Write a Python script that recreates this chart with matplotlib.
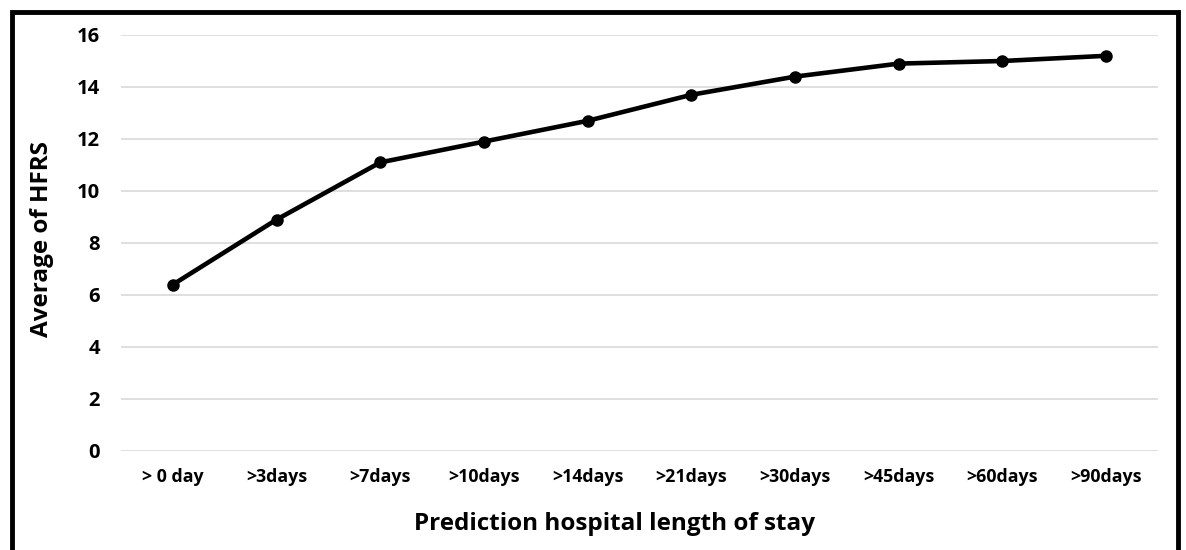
import matplotlib
matplotlib.use("Agg")
import matplotlib.pyplot as plt
from matplotlib.patches import Rectangle

categories = ["> 0 day", ">3days", ">7days", ">10days", ">14days", ">21days",
              ">30days", ">45days", ">60days", ">90days"]
hfrs = [6.4, 8.9, 11.1, 11.9, 12.7, 13.7, 14.4, 14.9, 15.0, 15.2]
yticks = [0, 2, 4, 6, 8, 10, 12, 14, 16]

plt.rcParams['font.family'] = ['Open Sans', 'DejaVu Sans']

W, H = 1186, 550
fig = plt.figure(figsize=(W / 100, H / 100), dpi=100)
ax = fig.add_axes([121 / W, 1 - 451 / H, (1158 - 121) / W, (451 - 35) / H])

x = list(range(len(categories)))
ax.plot(x, hfrs, color='black', lw=3.3, marker='o', ms=8, zorder=3)
ax.set_xlim(-0.5, len(categories) - 0.5)
ax.set_ylim(0, 16)
ax.set_yticks(yticks)
ax.set_yticklabels([str(v) for v in yticks], fontsize=14.5, fontweight='bold')
ax.set_xticks(x)
ax.set_xticklabels(categories, fontsize=12.8, fontweight='bold')
ax.tick_params(length=0)
ax.tick_params(axis='x', pad=12)
ax.tick_params(axis='y', pad=15)
ax.grid(axis='y', color='#d9d9d9', lw=1.2)
ax.set_axisbelow(True)
for s in ax.spines.values():
    s.set_visible(False)

fig.text(614 / W, 1 - 524 / H, "Prediction hospital length of stay",
         ha='center', va='center', fontsize=17.5, fontweight='bold')
fig.text(42 / W, 1 - 239 / H, "Average of HFRS", ha='center', va='center',
         rotation=90, fontsize=17.5, fontweight='bold')

fig.patches.append(Rectangle((12 / W, -0.1), (1178 - 12) / W, 1 - 12 / H + 0.1,
                             transform=fig.transFigure, fill=False,
                             edgecolor='black', lw=3.5, clip_on=False))

fig.savefig("out.png", dpi=100)
